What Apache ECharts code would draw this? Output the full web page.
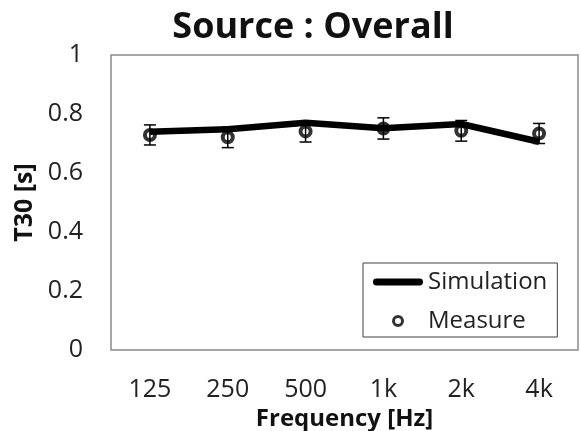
<!DOCTYPE html>
<html>
<head>
<meta charset="utf-8">
<script src="https://cdn.jsdelivr.net/npm/echarts@6/dist/echarts.min.js"></script>
<style>html,body{margin:0;padding:0;background:#fff}#c{width:580px;height:431px}</style>
</head>
<body>
<div id="c"></div>
<script>
const categories = ['125', '250', '500', '1k', '2k', '4k'];
const simulation = [0.740, 0.748, 0.770, 0.752, 0.766, 0.706];
const measure = [0.729, 0.721, 0.741, 0.751, 0.743, 0.734];
const measureErr = [0.034, 0.035, 0.036, 0.036, 0.035, 0.034];
const yTicks = [0, 0.2, 0.4, 0.6, 0.8, 1];

const FONT = '"Open Sans", sans-serif';
const chart = echarts.init(document.getElementById('c'));
const errData = measure.map((v, i) => [i, v - measureErr[i], v + measureErr[i]]);

chart.setOption({
  animation: false,
  backgroundColor: '#fff',
  title: {
    text: 'Source : Overall',
    left: 308, top: 5, textAlign: 'center',
    textStyle: { fontFamily: FONT, fontSize: 36, fontWeight: 'bold', color: '#111' }
  },
  grid: {
    left: 111, right: 2, top: 55, bottom: 81,
    outerBoundsMode: 'none', containLabel: false,
    show: true, borderColor: '#8a8a8a', borderWidth: 1.5, backgroundColor: 'transparent'
  },
  legend: {
    orient: 'vertical',
    left: 363, top: 263,
    padding: [5, 10, 2, 10],
    itemWidth: 50, itemHeight: 9, itemGap: 11,
    borderColor: '#404040', borderWidth: 1,
    textStyle: { fontFamily: FONT, fontSize: 24, color: '#222', lineHeight: 28 },
    data: [
      { name: 'Simulation', icon: 'path://M3,0 L47,0 A3.5,3.5 0 0 1 47,7 L3,7 A3.5,3.5 0 0 1 3,0 Z',
        itemStyle: { color: '#000', borderWidth: 0 } },
      { name: 'Measure', icon: 'circle',
        itemStyle: { color: 'rgba(255,255,255,0)', borderColor: '#000', borderWidth: 3 } }
    ]
  },
  xAxis: {
    type: 'category', data: categories, boundaryGap: true,
    axisLine: { show: false }, axisTick: { show: false },
    axisLabel: { fontFamily: FONT, fontSize: 25, color: '#222', margin: 27 },
    name: 'Frequency [Hz]', nameLocation: 'middle', nameGap: 46,
    nameTextStyle: { fontFamily: FONT, fontSize: 24, fontWeight: 'bold', color: '#111' }
  },
  yAxis: {
    type: 'value', min: 0, max: 1, interval: 0.2,
    splitLine: { show: false }, axisLine: { show: false }, axisTick: { show: false },
    axisLabel: { fontFamily: FONT, fontSize: 25, color: '#222', margin: 28,
      formatter: v => { const t = yTicks.find(x => Math.abs(x - v) < 1e-9); return t === undefined ? '' : String(t); } },
    name: 'T30 [s]', nameLocation: 'middle', nameGap: 73,
    nameTextStyle: { fontFamily: FONT, fontSize: 25, fontWeight: 'bold', color: '#111' }
  },
  series: [
    {
      name: 'Measure-err', type: 'custom', data: errData, z: 2, silent: true,
      encode: { x: 0, y: [1, 2] },
      renderItem: (params, api) => {
        const x = api.value(0);
        const lo = api.coord([x, api.value(1)]);
        const hi = api.coord([x, api.value(2)]);
        const hw = 6;
        const st = { stroke: '#000', lineWidth: 1.5 };
        return { type: 'group', children: [
          { type: 'line', shape: { x1: lo[0], y1: lo[1], x2: hi[0], y2: hi[1] }, style: st },
          { type: 'line', shape: { x1: lo[0] - hw, y1: lo[1], x2: lo[0] + hw, y2: lo[1] }, style: st },
          { type: 'line', shape: { x1: hi[0] - hw, y1: hi[1], x2: hi[0] + hw, y2: hi[1] }, style: st }
        ]};
      }
    },
    {
      name: 'Measure', type: 'scatter', data: measure, z: 3,
      symbol: 'circle', symbolSize: 10,
      itemStyle: { color: 'rgba(255,255,255,0)', borderColor: '#000', borderWidth: 4 }
    },
    {
      name: 'Simulation', type: 'line', data: simulation, z: 4,
      symbol: 'none', lineStyle: { color: '#000', width: 6.5 }, itemStyle: { color: '#000' }
    }
  ]
});
</script>
</body>
</html>
